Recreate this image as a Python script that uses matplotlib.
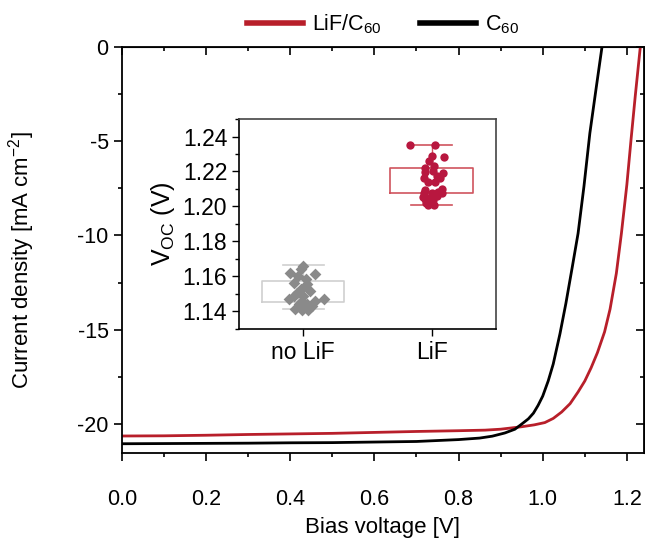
import matplotlib.pyplot as plt
from matplotlib.lines import Line2D
from matplotlib.ticker import MultipleLocator

plt.rcParams['font.family'] = ['Liberation Sans', 'DejaVu Sans']
plt.rcParams['axes.unicode_minus'] = False
plt.rcParams['mathtext.fontset'] = 'custom'
plt.rcParams['mathtext.rm'] = 'Liberation Sans'
plt.rcParams['mathtext.it'] = 'Liberation Sans'
plt.rcParams['mathtext.default'] = 'rm'

# J-V curves
v_c60 = [0.0, 0.1, 0.2, 0.3, 0.4, 0.5, 0.6, 0.7, 0.8, 0.85, 0.88, 0.91, 0.934, 0.95,
         0.966, 0.978, 0.989, 1.0, 1.013, 1.025, 1.041, 1.055, 1.07, 1.084, 1.098,
         1.112, 1.127, 1.141, 1.15]
j_c60 = [-21.02, -21.01, -21.0, -20.99, -20.97, -20.96, -20.93, -20.9, -20.8, -20.72,
         -20.62, -20.45, -20.25, -19.98, -19.7, -19.4, -18.99, -18.5, -17.7, -16.8,
         -15.2, -13.6, -11.7, -9.89, -7.4, -4.59, -2.2, 0.0, 1.3]

v_lif = [0.0, 0.1, 0.2, 0.3, 0.4, 0.5, 0.6, 0.7, 0.8, 0.863, 0.9, 0.95, 0.98, 1.005,
         1.025, 1.045, 1.065, 1.084, 1.10, 1.115, 1.13, 1.147, 1.16, 1.175, 1.187,
         1.20, 1.21, 1.22, 1.232, 1.24]
j_lif = [-20.61, -20.6, -20.57, -20.53, -20.5, -20.47, -20.42, -20.37, -20.33, -20.3,
         -20.25, -20.12, -20.02, -19.9, -19.68, -19.34, -18.9, -18.28, -17.7, -17.0,
         -16.2, -15.1, -13.9, -12.0, -9.89, -7.3, -4.9, -2.6, 0.0, 1.5]

# inset: Voc statistics
groups = ['no LiF', 'LiF']
box_q1 = [1.1455, 1.2078]
box_q3 = [1.1572, 1.2221]
box_med = [1.150, 1.213]
whisk_lo = [1.1415, 1.2006]
whisk_hi = [1.1663, 1.2350]

# individual devices: (jitter offset, Voc)
nolif_dx = [0.0, -0.02, -0.10, 0.09, -0.04, -0.07, 0.03, 0.02, -0.02, 0.05, -0.05, 0.0,
            -0.07, -0.11, 0.16, 0.09, -0.01, 0.03, -0.03, 0.07, -0.06, -0.01, 0.04]
nolif_voc = [1.1659, 1.1644, 1.1621, 1.1615, 1.1602, 1.1564, 1.1554, 1.1583, 1.1526,
             1.1516, 1.1507, 1.1487, 1.1487, 1.1473, 1.1469, 1.1459, 1.1459, 1.1440,
             1.1440, 1.1430, 1.1415, 1.1411, 1.1411]
lif_dx = [-0.17, 0.03, 0.0, 0.10, -0.02, 0.02, -0.05, 0.01, 0.09, -0.05, 0.04, -0.06,
          0.07, -0.03, 0.03, -0.05, 0.08, 0.05, -0.06, 0.0, 0.08, -0.07, -0.02, 0.04,
          -0.05, 0.01, -0.04, -0.03, 0.02]
lif_voc = [1.2350, 1.2350, 1.2291, 1.2282, 1.2259, 1.2234, 1.2221, 1.2205, 1.2193,
           1.2195, 1.2175, 1.2164, 1.2160, 1.2139, 1.2140, 1.2097, 1.2100, 1.2085,
           1.2078, 1.2075, 1.2075, 1.2055, 1.2050, 1.2060, 1.2040, 1.2035, 1.2020,
           1.2007, 1.2010]

RED = '#b81f2a'

fig = plt.figure(figsize=(6.45, 5.41), dpi=100)
ax = fig.add_axes([0.189, 0.163, 0.809, 0.751])

ax.plot(v_lif, j_lif, color=RED, lw=2.0)
ax.plot(v_c60, j_c60, color='black', lw=2.0)
ax.set_xlim(0, 1.24)
ax.set_ylim(-21.5, 0)
ax.xaxis.set_major_locator(MultipleLocator(0.2))
ax.xaxis.set_minor_locator(MultipleLocator(0.1))
ax.yaxis.set_major_locator(MultipleLocator(5))
ax.yaxis.set_minor_locator(MultipleLocator(2.5))
ax.xaxis.set_major_formatter(plt.FuncFormatter(lambda x, p: f'{x:.1f}'))
ax.tick_params(axis='both', which='both', labelsize=15.5, width=1.2, direction='out')
ax.tick_params(axis='both', which='major', length=6)
ax.tick_params(axis='both', which='minor', length=3)
ax.tick_params(axis='x', which='major', pad=20)
for s in ax.spines.values():
    s.set_linewidth(1.3)

# mirrored ticks on top/right, pointing in
sec_x = ax.secondary_xaxis('top')
sec_x.xaxis.set_major_locator(MultipleLocator(0.2))
sec_x.xaxis.set_minor_locator(MultipleLocator(0.1))
sec_x.tick_params(which='both', direction='in', labeltop=False, width=1.2)
sec_x.tick_params(which='major', length=6)
sec_x.tick_params(which='minor', length=3)
sec_y = ax.secondary_yaxis('right')
sec_y.yaxis.set_major_locator(MultipleLocator(5))
sec_y.yaxis.set_minor_locator(MultipleLocator(2.5))
sec_y.tick_params(which='both', direction='in', labelright=False, width=1.2)
sec_y.tick_params(which='major', length=6)
sec_y.tick_params(which='minor', length=3)

ax.set_xlabel('Bias voltage [V]', fontsize=16)
ax.xaxis.set_label_coords(0.5, -0.158)
ax.set_ylabel('Current density [mA cm$^{-2}$]', fontsize=16)
ax.yaxis.set_label_coords(-0.163, 0.474)

handles = [Line2D([], [], color=RED, lw=4), Line2D([], [], color='black', lw=4)]
ax.legend(handles, ['LiF/C$_{60}$', 'C$_{60}$'], loc='lower center',
          bbox_to_anchor=(0.5, 1.005), ncol=2, frameon=False, fontsize=15.5,
          handlelength=2.6, columnspacing=1.8, handletextpad=0.4, borderaxespad=0.0)

# inset
ins = fig.add_axes([0.3705, 0.392, 0.398, 0.388])
stats = []
for i, g in enumerate(groups):
    stats.append(dict(label=g, q1=box_q1[i], q3=box_q3[i], med=box_med[i],
                      whislo=whisk_lo[i], whishi=whisk_hi[i]))
bp = ins.bxp(stats, positions=[0, 1], widths=0.64, capwidths=0.32, showfliers=False,
             patch_artist=False, manage_ticks=False,
             medianprops=dict(linewidth=0))
edge_cols = ['#cfcfcf', '#d0545e']
for i, c in enumerate(edge_cols):
    bp['boxes'][i].set_color(c)
    bp['boxes'][i].set_linewidth(1.2)
    for k in (2 * i, 2 * i + 1):
        bp['whiskers'][k].set_color(c)
        bp['caps'][k].set_color(c)
        bp['caps'][k].set_linewidth(1.2)

ins.scatter([0 + d for d in nolif_dx], nolif_voc, marker='D', s=36, color='#8a8a8a',
            zorder=3, linewidths=0)
ins.scatter([1 + d for d in lif_dx], lif_voc, marker='o', s=36, color='#b8173f',
            zorder=3, linewidths=0)

ins.set_xlim(-0.5, 1.5)
ins.set_ylim(1.13, 1.25)
ins.set_xticks([0, 1])
ins.set_xticklabels(groups)
ins.yaxis.set_major_locator(MultipleLocator(0.02))
ins.yaxis.set_minor_locator(MultipleLocator(0.01))
ins.yaxis.set_major_formatter(plt.FuncFormatter(lambda y, p: f'{y:.2f}'))
ins.tick_params(axis='both', which='both', labelsize=16.5, direction='out', width=1.0)
ins.tick_params(axis='both', which='major', length=5)
ins.tick_params(axis='y', which='minor', length=3)
ins.set_ylabel('V$_{\\mathrm{OC}}$ (V)', fontsize=18, labelpad=4)
for s in ['left', 'bottom']:
    ins.spines[s].set_linewidth(1.2)
for s in ['top', 'right']:
    ins.spines[s].set_color('#444444')
    ins.spines[s].set_linewidth(1.2)

fig.savefig('out.png', dpi=100)
